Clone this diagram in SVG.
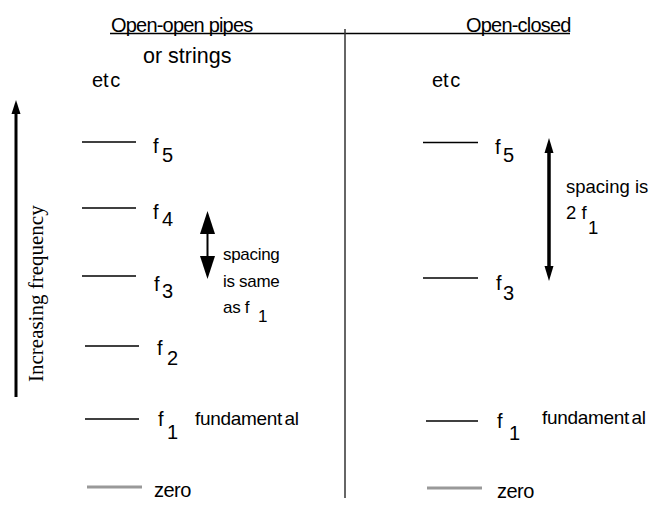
<svg xmlns="http://www.w3.org/2000/svg" width="653" height="508" viewBox="0 0 653 508">
  <style>
    text { font-family: "Liberation Sans", Arial, sans-serif; fill: #000; }
    .head { font-size: 20px; letter-spacing: -0.8px; }
    .lbl { font-size: 20px; }
    .note { font-size: 17px; letter-spacing: -0.3px; }
    .note2 { font-size: 18.5px; }
    .fund { font-size: 19px; letter-spacing: -0.3px; }
    .axis { font-family: "Liberation Serif", "Times New Roman", serif; font-size: 21px; }
    .lvl { stroke: #000; stroke-width: 1.5; }
    .zero { stroke: #999; stroke-width: 3; }
    .rule { stroke: #000; stroke-width: 1.5; }
    .divider { stroke: #333; stroke-width: 1.5; }
    .arrow { stroke: #000; fill: none; }
    .head-fill { fill: #000; }
  </style>

  <!-- headings and divider -->
  <g id="headings">
    <line class="rule" x1="110" y1="33.5" x2="570" y2="33.5"/>
    <line class="divider" x1="345" y1="29" x2="345" y2="498"/>
    <text class="head" x="111" y="31.5">Open-open pipes</text>
    <text class="lbl" x="143" y="62.5" style="font-size:21.5px">or strings</text>
    <text class="head" x="466" y="31.5">Open-closed</text>
    <text class="lbl" x="92" y="87">et<tspan dx="1.5">c</tspan></text>
    <text class="lbl" x="432" y="87">et<tspan dx="1.5">c</tspan></text>
  </g>

  <!-- frequency axis -->
  <g id="axis">
    <text class="axis" transform="translate(43,382) rotate(-90)">Increasing frequency</text>
  </g>

  <!-- open-open levels -->
  <g id="oo-f5">
    <line class="lvl" x1="82" y1="142" x2="136" y2="142"/>
    <text class="lbl" x="153" y="153">f</text>
    <text class="lbl" x="162" y="161.5">5</text>
  </g>
  <g id="oo-f4">
    <line class="lvl" x1="82" y1="208" x2="136" y2="208"/>
    <text class="lbl" x="153" y="219">f</text>
    <text class="lbl" x="162" y="226">4</text>
  </g>
  <g id="oo-f3">
    <line class="lvl" x1="82" y1="276" x2="136" y2="276"/>
    <text class="lbl" x="154" y="291">f</text>
    <text class="lbl" x="162" y="298">3</text>
  </g>
  <g id="oo-f2">
    <line class="lvl" x1="85" y1="346" x2="139" y2="346"/>
    <text class="lbl" x="157" y="355">f</text>
    <text class="lbl" x="167" y="365">2</text>
  </g>
  <g id="oo-f1">
    <line class="lvl" x1="85" y1="419" x2="139" y2="419"/>
    <text class="lbl" x="158" y="426">f</text>
    <text class="lbl" x="167" y="439">1</text>
    <text class="fund" x="195" y="425">fundament<tspan dx="2.5">al</tspan></text>
  </g>
  <g id="oo-zero">
    <line class="zero" x1="87" y1="487" x2="142" y2="487"/>
    <text class="lbl" x="154" y="497" style="letter-spacing:-0.5px">zero</text>
  </g>

  <!-- open-closed levels -->
  <g id="oc-f5">
    <line class="lvl" x1="423" y1="142.5" x2="478" y2="142.5"/>
    <text class="lbl" x="495" y="154">f</text>
    <text class="lbl" x="503" y="162">5</text>
  </g>
  <g id="oc-f3">
    <line class="lvl" x1="423" y1="278" x2="478" y2="278"/>
    <text class="lbl" x="496" y="290">f</text>
    <text class="lbl" x="503" y="300">3</text>
  </g>
  <g id="oc-f1">
    <line class="lvl" x1="426" y1="421" x2="478" y2="421"/>
    <text class="lbl" x="497" y="428">f</text>
    <text class="lbl" x="509" y="440">1</text>
    <text class="fund" x="542" y="424">fundament<tspan dx="2.5">al</tspan></text>
  </g>
  <g id="oc-zero">
    <line class="zero" x1="427" y1="488" x2="482" y2="488"/>
    <text class="lbl" x="497" y="498" style="letter-spacing:-0.5px">zero</text>
  </g>

  <!-- spacing notes -->
  <g id="oo-spacing-note">
    <text class="note" x="223" y="260">spacing</text>
    <text class="note" x="223" y="287">is same</text>
    <text class="note" x="223" y="313">as f</text>
    <text class="note" x="258" y="322">1</text>
  </g>
  <g id="oc-spacing-note">
    <text class="note2" x="566" y="193">spacing is</text>
    <text class="note2" x="566" y="219">2 f</text>
    <text class="note2" x="588" y="234">1</text>
  </g>

  <!-- connectors -->
  <g id="connectors">
    <line class="arrow" x1="16" y1="110" x2="16" y2="397" stroke-width="3"/>
    <polygon class="head-fill" points="16,100 11.5,114 20.5,114"/>

    <line class="arrow" x1="207.5" y1="228" x2="207.5" y2="262" stroke-width="2"/>
    <polygon class="head-fill" points="207.5,211 200,234 215,234"/>
    <polygon class="head-fill" points="207.5,279 200,256 215,256"/>

    <line class="arrow" x1="549" y1="148" x2="549" y2="272" stroke-width="3.5"/>
    <polygon class="head-fill" points="549,138 544.5,153 553.5,153"/>
    <polygon class="head-fill" points="549,281 544.5,266 553.5,266"/>
  </g>
</svg>
